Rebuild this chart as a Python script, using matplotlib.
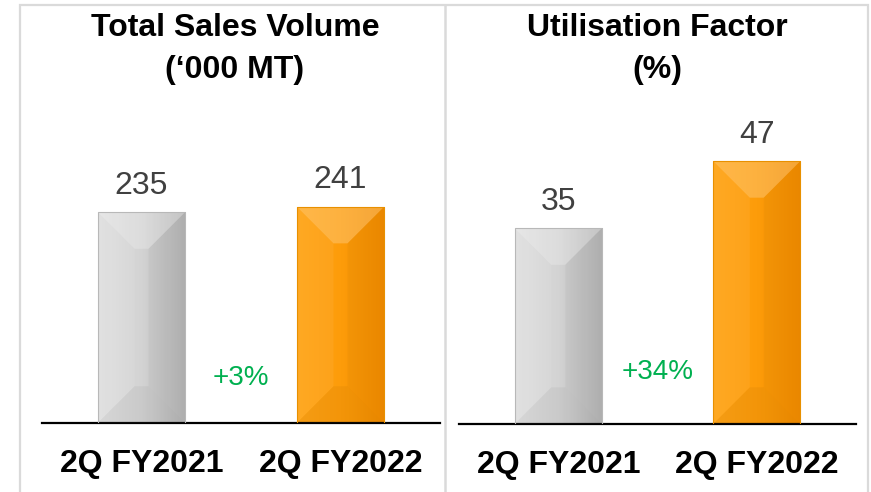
import numpy as np
import matplotlib
matplotlib.use("Agg")
import matplotlib.pyplot as plt
from matplotlib.colors import LinearSegmentedColormap
from matplotlib.patches import Polygon, Rectangle

plt.rcParams['font.family'] = ['Liberation Sans', 'DejaVu Sans']

# data
periods = ['2Q FY2021', '2Q FY2022']
sales_volume = [235, 241]
utilisation = [35, 47]
sales_change = '+3%'
util_change = '+34%'
panel_titles = ['Total Sales Volume', 'Utilisation Factor']
panel_units = ['(\u2018000 MT)', '(%)']

W, H = 871, 492
fig = plt.figure(figsize=(W / 100, H / 100), dpi=100)

def px(x, y, w, h):
    # pixel box (top-left origin) -> figure fraction
    return [x / W, 1 - (y + h) / H, w / W, h / H]

grey_cmap = LinearSegmentedColormap.from_list('g', ['#e0e0e0', '#d3d3d3', '#b4b4b4'])
orange_cmap = LinearSegmentedColormap.from_list('o', ['#ffa416', '#fd9c0a', '#f28c00'])

def bevel_bar(ax, x, h, cmap, edge):
    bar = ax.bar(x, h, width=0.44, color='none', edgecolor=edge, linewidth=0.8, zorder=3)[0]
    grad = np.linspace(0, 1, 64).reshape(1, -1)
    bx, bw = bar.get_x(), bar.get_width()
    im = ax.imshow(grad, extent=[bx, bx + bw, 0, h], aspect='auto', cmap=cmap, zorder=2)
    im.set_clip_path(bar)
    # bevel facets computed in pixels so the corners stay at 45 degrees
    (x0, y0), (x1, y1) = ax.transData.transform([(bx, 0), (bx + bw, h)])
    d = 0.42 * (x1 - x0)
    facets = [
        ([(x0, y1), (x1, y1), (x1 - d, y1 - d), (x0 + d, y1 - d)], 'white', 0.22),
        ([(x0, y0), (x1, y0), (x1 - d, y0 + d), (x0 + d, y0 + d)], 'black', 0.04),
        ([(x0, y0), (x0, y1), (x0 + d, y1 - d), (x0 + d, y0 + d)], 'white', 0.06),
        ([(x1, y0), (x1, y1), (x1 - d, y1 - d), (x1 - d, y0 + d)], 'black', 0.03),
    ]
    inv = ax.transData.inverted()
    for pts, c, a in facets:
        ax.add_patch(Polygon(inv.transform(pts), closed=True, facecolor=c,
                             alpha=a, edgecolor='none', zorder=2.5))

def panel(rect, values, ymax, change, change_y):
    ax = fig.add_axes(rect)
    ax.set_xlim(-0.5, 1.5)
    ax.set_ylim(0, ymax)
    for s in ['top', 'right', 'left']:
        ax.spines[s].set_visible(False)
    ax.spines['bottom'].set_linewidth(1.6)
    ax.set_yticks([])
    ax.set_xticks([0, 1])
    ax.set_xticklabels(periods, fontsize=23, fontweight='bold')
    ax.tick_params(axis='x', length=0, pad=19)
    bevel_bar(ax, 0, values[0], grey_cmap, '#b8b8b8')
    bevel_bar(ax, 1, values[1], orange_cmap, '#e89000')
    for i, v in enumerate(values):
        ax.annotate(str(v), (i, v), xytext=(0, 8), textcoords='offset points',
                    ha='center', va='bottom', fontsize=23, color='#404040')
    ax.text(0.5, change_y, change, ha='center', va='center', fontsize=20,
            color='#00b050')
    return ax

# left panel: 0.898 px per unit, right: 5.596 px per unit, 323 px tall
panel(px(42, 100, 398, 323), sales_volume, 323 / 0.898, sales_change, 50)
panel(px(459, 101, 397, 323), utilisation, 323 / 5.596, util_change, 9.3)

# titles
for cx, t, u in zip([235, 657], panel_titles, panel_units):
    fig.text(cx / W, 1 - 28 / H, t, ha='center', va='center', fontsize=23, fontweight='bold')
    fig.text(cx / W, 1 - 70 / H, u, ha='center', va='center', fontsize=23, fontweight='bold')

# frame and divider
fig.add_artist(Rectangle((20 / W, -0.05), 848 / W, 1.05 - 5 / H, transform=fig.transFigure,
                         fill=False, edgecolor='#dadada', linewidth=1.6))
fig.add_artist(plt.Line2D([445 / W, 445 / W], [0, 1 - 5 / H], transform=fig.transFigure,
                          color='#dadada', linewidth=1.8))

fig.savefig('out.png', dpi=100)
